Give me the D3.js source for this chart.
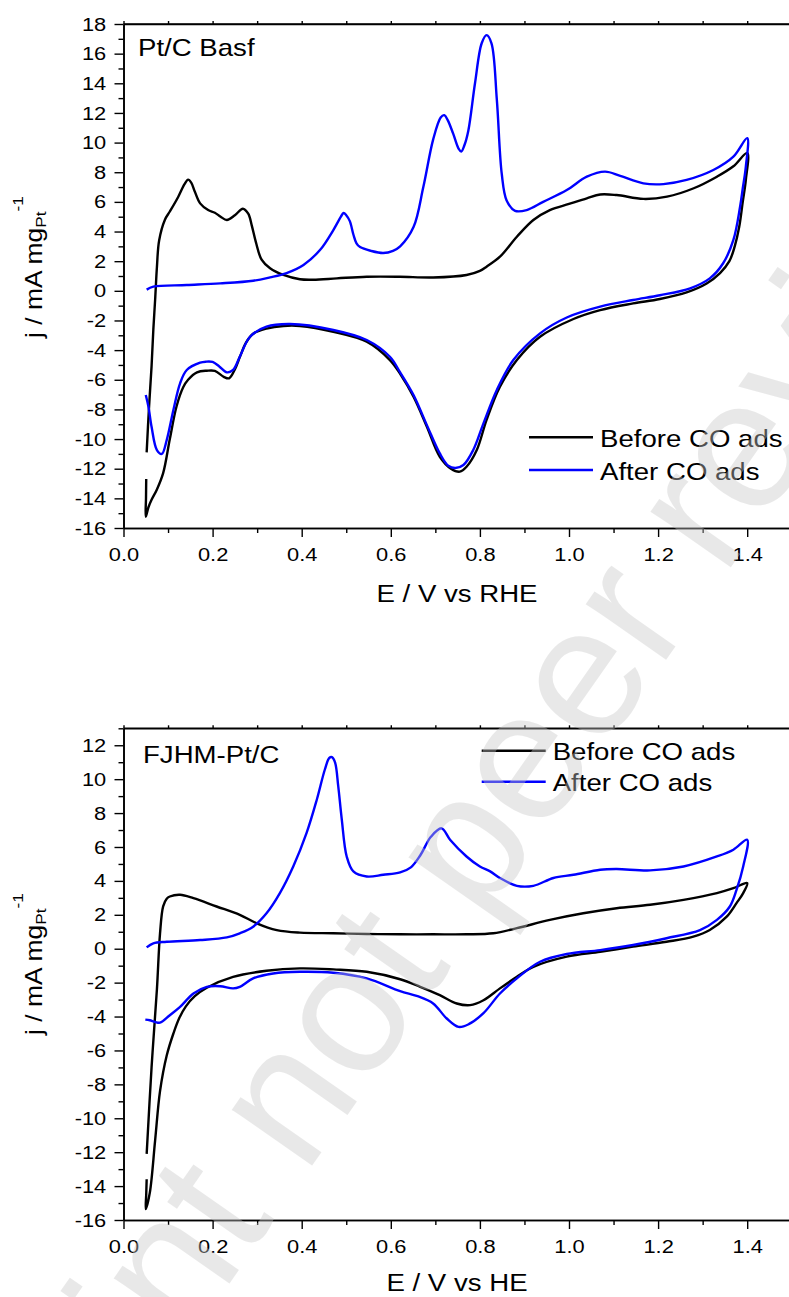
<!DOCTYPE html>
<html>
<head>
<meta charset="utf-8">
<script src="https://cdn.jsdelivr.net/npm/d3@7/dist/d3.min.js"></script>
<style>
  body { margin: 0; background: #fff; }
  svg text { font-family: 'Liberation Sans', Arial, sans-serif; fill: #000; }
</style>
</head>
<body>
<svg id="chart" width="789" height="1297"></svg>
<script>
// ---- data: [E (V), j (mA mg-1)] ----
const basfBefore = [
  [0.052,-10.9],[0.057,-8.0],[0.063,-5.1],[0.067,-2.6],[0.071,-0.6],[0.075,1.6],[0.080,3.4],
  [0.093,4.8],[0.104,5.35],[0.123,6.35],[0.137,7.2],[0.145,7.5],[0.152,7.3],[0.160,6.7],
  [0.172,5.9],[0.190,5.45],[0.205,5.27],[0.218,5.0],[0.232,4.78],[0.250,5.1],[0.268,5.54],
  [0.280,5.2],[0.288,4.4],[0.297,3.3],[0.310,2.1],[0.329,1.52],[0.359,1.07],[0.396,0.78],
  [0.426,0.75],[0.479,0.84],[0.546,0.95],[0.620,0.95],[0.695,0.9],[0.770,1.07],[0.800,1.35],
  [0.815,1.63],[0.845,2.3],[0.883,3.65],[0.920,4.78],[0.957,5.45],[1.000,5.86],[1.040,6.24],
  [1.070,6.5],[1.107,6.46],[1.167,6.2],[1.220,6.35],[1.280,6.92],[1.332,7.7],[1.369,8.4],
  [1.400,9.3],
  [1.397,7.5],[1.390,6.0],[1.382,4.3],[1.372,3.0],[1.360,2.0],[1.339,1.2],[1.309,0.5],
  [1.264,-0.1],[1.204,-0.55],[1.144,-0.85],[1.070,-1.3],[1.010,-1.9],[0.935,-3.1],
  [0.883,-4.67],[0.845,-6.47],[0.815,-8.7],[0.793,-10.74],[0.770,-11.87],[0.755,-12.2],
  [0.735,-12.0],[0.710,-11.2],[0.681,-9.17],[0.651,-7.15],[0.621,-5.6],[0.598,-4.67],
  [0.546,-3.43],[0.471,-2.76],[0.396,-2.37],[0.359,-2.37],[0.321,-2.55],[0.291,-2.9],
  [0.275,-3.5],[0.262,-4.4],[0.250,-5.3],[0.237,-5.9],[0.225,-5.8],[0.205,-5.4],[0.187,-5.39],
  [0.165,-5.5],[0.145,-6.0],[0.134,-6.5],[0.119,-7.8],[0.104,-10.0],[0.089,-12.3],
  [0.075,-13.4],[0.063,-14.1],[0.056,-14.6],[0.050,-15.24],[0.0505,-14.0],[0.051,-12.7]
]
const basfAfter = [
  [0.052,0.08],[0.067,0.28],[0.142,0.39],[0.217,0.5],[0.291,0.68],[0.329,0.91],[0.366,1.2],
  [0.404,1.75],[0.441,2.75],[0.471,4.1],[0.488,5.0],[0.494,5.25],[0.500,5.1],[0.508,4.7],
  [0.516,3.8],[0.523,3.2],[0.531,2.95],[0.555,2.7],[0.583,2.55],[0.605,2.7],[0.621,3.0],
  [0.651,4.3],[0.673,7.0],[0.695,10.2],[0.712,11.7],[0.720,11.85],[0.728,11.5],[0.740,10.6],
  [0.752,9.6],[0.758,9.4],[0.765,9.8],[0.774,10.8],[0.789,14.0],[0.804,16.7],[0.815,17.25],
  [0.826,16.7],[0.838,12.9],[0.849,7.9],[0.860,6.1],[0.879,5.4],[0.905,5.45],[0.942,6.0],
  [0.995,6.8],[1.040,7.7],[1.081,8.04],[1.115,7.75],[1.167,7.25],[1.212,7.2],[1.264,7.48],
  [1.324,8.15],[1.369,9.05],[1.400,10.3],
  [1.397,8.4],[1.390,6.9],[1.384,5.67],[1.369,3.43],[1.346,1.86],[1.316,0.84],[1.272,0.17],
  [1.204,-0.3],[1.144,-0.62],[1.070,-1.07],[0.995,-1.8],[0.935,-2.87],[0.875,-4.67],
  [0.838,-6.69],[0.808,-8.94],[0.785,-10.74],[0.763,-11.75],[0.745,-11.95],[0.729,-11.8],
  [0.710,-10.97],[0.681,-9.06],[0.651,-7.03],[0.621,-5.5],[0.598,-4.45],[0.546,-3.32],
  [0.471,-2.64],[0.374,-2.24],[0.321,-2.42],[0.284,-3.1],[0.261,-4.45],[0.246,-5.34],
  [0.232,-5.5],[0.215,-5.1],[0.200,-4.8],[0.185,-4.78],[0.172,-4.85],[0.142,-5.34],
  [0.127,-6.24],[0.112,-8.04],[0.097,-10.07],[0.086,-11.0],[0.075,-10.74],[0.063,-9.17],
  [0.056,-7.82],[0.050,-7.03]
]
const fjhmBefore = [
  [0.052,-12.1],[0.063,-7.0],[0.075,-2.4],[0.082,0.9],[0.089,2.5],[0.097,2.95],[0.104,3.08],
  [0.127,3.18],[0.157,2.98],[0.209,2.49],[0.261,2.0],[0.299,1.5],[0.344,1.1],[0.396,0.95],
  [0.471,0.91],[0.546,0.87],[0.621,0.85],[0.695,0.85],[0.770,0.85],[0.830,0.91],[0.883,1.21],
  [0.957,1.7],[1.032,2.09],[1.107,2.39],[1.182,2.59],[1.257,2.88],[1.332,3.28],[1.369,3.57],
  [1.400,3.87],
  [1.391,3.28],[1.376,2.69],[1.354,1.89],[1.316,1.1],[1.279,0.71],[1.219,0.41],[1.144,0.12],
  [1.070,-0.18],[0.995,-0.47],[0.920,-1.07],[0.883,-1.66],[0.845,-2.34],[0.808,-3.04],
  [0.778,-3.33],[0.748,-3.23],[0.710,-2.74],[0.666,-2.25],[0.621,-1.8],[0.546,-1.36],
  [0.471,-1.22],[0.396,-1.16],[0.321,-1.3],[0.246,-1.66],[0.187,-2.3],[0.160,-2.8],
  [0.140,-3.4],[0.125,-4.1],[0.112,-5.0],[0.097,-6.3],[0.082,-8.4],[0.071,-11.3],
  [0.059,-14.4],[0.050,-15.36],[0.051,-14.5],[0.052,-13.6]
]
const fjhmAfter = [
  [0.052,0.08],[0.067,0.32],[0.097,0.41],[0.172,0.51],[0.232,0.67],[0.261,0.91],[0.291,1.3],
  [0.321,2.09],[0.351,3.28],[0.381,4.85],[0.411,6.83],[0.434,8.8],[0.452,10.57],[0.462,11.25],
  [0.468,11.3],[0.475,10.97],[0.482,9.59],[0.490,7.62],[0.501,5.44],[0.516,4.56],[0.546,4.26],
  [0.583,4.36],[0.621,4.5],[0.645,4.8],[0.666,5.5],[0.690,6.6],[0.714,7.1],[0.733,6.43],
  [0.770,5.44],[0.800,4.85],[0.823,4.56],[0.845,4.17],[0.883,3.71],[0.920,3.71],[0.965,4.17],
  [1.010,4.36],[1.070,4.66],[1.107,4.7],[1.182,4.62],[1.257,4.85],[1.332,5.44],[1.369,5.84],
  [1.400,6.43],
  [1.391,4.85],[1.376,3.47],[1.361,2.49],[1.332,1.7],[1.294,1.1],[1.219,0.62],[1.144,0.22],
  [1.070,-0.08],[0.995,-0.31],[0.935,-0.77],[0.883,-1.75],[0.845,-2.64],[0.808,-3.8],
  [0.775,-4.45],[0.752,-4.61],[0.725,-4.1],[0.695,-3.23],[0.660,-2.8],[0.621,-2.5],
  [0.546,-1.75],[0.471,-1.42],[0.396,-1.36],[0.336,-1.46],[0.291,-1.75],[0.261,-2.25],
  [0.246,-2.34],[0.217,-2.21],[0.187,-2.25],[0.157,-2.64],[0.127,-3.43],[0.104,-3.92],
  [0.082,-4.36],[0.071,-4.32],[0.059,-4.22],[0.049,-4.18]
]

const seriesNames = ['Before CO ads', 'After CO ads']
const panelLabels = ['Pt/C Basf', 'FJHM-Pt/C']
const xTitles = ['E / V vs RHE', 'E / V vs HE']

// ---- ticks ----
const xMajorTicks = [0.0, 0.2, 0.4, 0.6, 0.8, 1.0, 1.2, 1.4]
const xMinorTicks = [0.1, 0.3, 0.5, 0.7, 0.9, 1.1, 1.3, 1.5]
const xTopTicks = [0.0, 0.1, 0.2, 0.3, 0.4, 0.5, 0.6, 0.7, 0.8, 0.9, 1.0, 1.1, 1.2, 1.3, 1.4, 1.5]
const yMajorTicksTop = [-16, -14, -12, -10, -8, -6, -4, -2, 0, 2, 4, 6, 8, 10, 12, 14, 16, 18]
const yMinorTicksTop = [-15, -13, -11, -9, -7, -5, -3, -1, 1, 3, 5, 7, 9, 11, 13, 15, 17]
const yMajorTicksBottom = [-16, -14, -12, -10, -8, -6, -4, -2, 0, 2, 4, 6, 8, 10, 12]
const yMinorTicksBottom = [-15, -13, -11, -9, -7, -5, -3, -1, 1, 3, 5, 7, 9, 11, 13]

const SX = 1.15          // the picture's lettering is drawn wide
const colors = ['#000000', '#0000ff']

const svg = d3.select('#chart')
const x = d3.scaleLinear().domain([0, 1.5]).range([123.5, 791.75])

const line = d3.line()
    .x(d => x(d[0]))
    .y(d => 0)
    .curve(d3.curveCatmullRom.alpha(0.5))

function drawPanel(p) {
    const y = d3.scaleLinear().domain(p.yDomain).range([p.bottom, p.top])
    const g = svg.append('g')

    // frame
    g.append('line').attr('x1', x(0)).attr('x2', x(1.5)).attr('y1', p.top).attr('y2', p.top)
        .attr('stroke', '#000').attr('stroke-width', 1.6)
    g.append('line').attr('x1', x(1.5)).attr('x2', x(1.5)).attr('y1', p.top).attr('y2', p.bottom)
        .attr('stroke', '#000').attr('stroke-width', 1.6)

    const styleAxis = sel => {
        sel.selectAll('path.domain').attr('stroke-width', 1.6)
        sel.selectAll('.tick line').attr('stroke-width', 1.4)
        sel.selectAll('text')
            .attr('font-size', 19)
            .style('font-family', "'Liberation Sans', Arial, sans-serif")
            .attr('transform', `scale(${SX},1)`)
    }

    g.append('g').attr('transform', `translate(0,${p.top})`)
        .call(d3.axisTop(x).tickValues(xTopTicks).tickSize(3).tickSizeOuter(0).tickFormat(''))
        .call(styleAxis)
    g.append('g').attr('transform', `translate(0,${p.bottom})`)
        .call(d3.axisBottom(x).tickValues(xMinorTicks).tickSize(5).tickSizeOuter(0).tickFormat(''))
        .call(styleAxis)
    g.append('g').attr('transform', `translate(0,${p.bottom})`)
        .call(d3.axisBottom(x).tickValues(xMajorTicks).tickSize(9).tickSizeOuter(0).tickPadding(11)
            .tickFormat(d => d.toFixed(1)))
        .call(styleAxis)
    g.append('g').attr('transform', `translate(${x(0)},0)`)
        .call(d3.axisLeft(y).tickValues(p.yMinor).tickSize(5).tickSizeOuter(0).tickFormat(''))
        .call(styleAxis)
    g.append('g').attr('transform', `translate(${x(0)},0)`)
        .call(d3.axisLeft(y).tickValues(p.yMajor).tickSize(9).tickSizeOuter(0).tickPadding(6)
            .tickFormat(d => String(d)))
        .call(styleAxis)
    g.selectAll('.domain').attr('stroke', '#000')

    // curves
    const ln = line.y(d => y(d[1]))
    p.series.forEach((s, i) => {
        g.append('path')
            .datum(s)
            .attr('d', ln)
            .attr('fill', 'none')
            .attr('stroke', colors[i])
            .attr('stroke-width', 2.4)
            .attr('stroke-linejoin', 'round')
    })

    // axis titles
    g.append('text')
        .attr('transform', `translate(457,${p.xTitleY}) scale(${SX},1)`)
        .attr('text-anchor', 'middle')
        .attr('font-size', 24)
        .text(p.xTitle)

    const yl = g.append('text')
        .attr('transform', `translate(41.5,${p.yTitleY}) rotate(-90) scale(${SX},1)`)
        .attr('text-anchor', 'middle')
        .attr('font-size', 23)
    yl.append('tspan').text('j / mA mg')
    yl.append('tspan').attr('font-size', 15).attr('dy', 4).text('Pt')
    yl.append('tspan').attr('font-size', 15).attr('dy', -23).text('-1')

    // panel label
    g.append('text')
        .attr('transform', `translate(${p.labelX},${p.labelY}) scale(${SX},1)`)
        .attr('font-size', 24)
        .text(p.label)

    // legend
    seriesNames.forEach((name, i) => {
        const ly = p.legendY + i * p.legendGap
        g.append('line')
            .attr('x1', p.legendX).attr('x2', p.legendX + 64)
            .attr('y1', ly).attr('y2', ly)
            .attr('stroke', colors[i]).attr('stroke-width', 2.4)
        g.append('text')
            .attr('transform', `translate(${p.legendX + 71},${ly + 9.5}) scale(${SX},1)`)
            .attr('font-size', 24)
            .text(name)
    })
}

drawPanel({
    top: 24, bottom: 528, yDomain: [-16, 18],
    yMajor: yMajorTicksTop, yMinor: yMinorTicksTop,
    series: [basfBefore, basfAfter],
    xTitle: xTitles[0], xTitleY: 601.5, yTitleY: 267,
    label: panelLabels[0], labelX: 138, labelY: 56,
    legendX: 529, legendY: 437.3, legendGap: 32.7
})
drawPanel({
    top: 728.3, bottom: 1220, yDomain: [-16, 13],
    yMajor: yMajorTicksBottom, yMinor: yMinorTicksBottom,
    series: [fjhmBefore, fjhmAfter],
    xTitle: xTitles[1], xTitleY: 1291, yTitleY: 964,
    label: panelLabels[1], labelX: 143, labelY: 763,
    legendX: 481.7, legendY: 750.7, legendGap: 31
})

// preprint watermark drawn over everything, as in the source
svg.append('text')
    .attr('transform', 'translate(526,860) rotate(-55)')
    .attr('text-anchor', 'middle')
    .attr('font-size', 185)
    .style('fill', '#c8c8c8')
    .attr('opacity', 0.4)
    .text('Preprint not peer reviewed')
</script>
</body>
</html>
